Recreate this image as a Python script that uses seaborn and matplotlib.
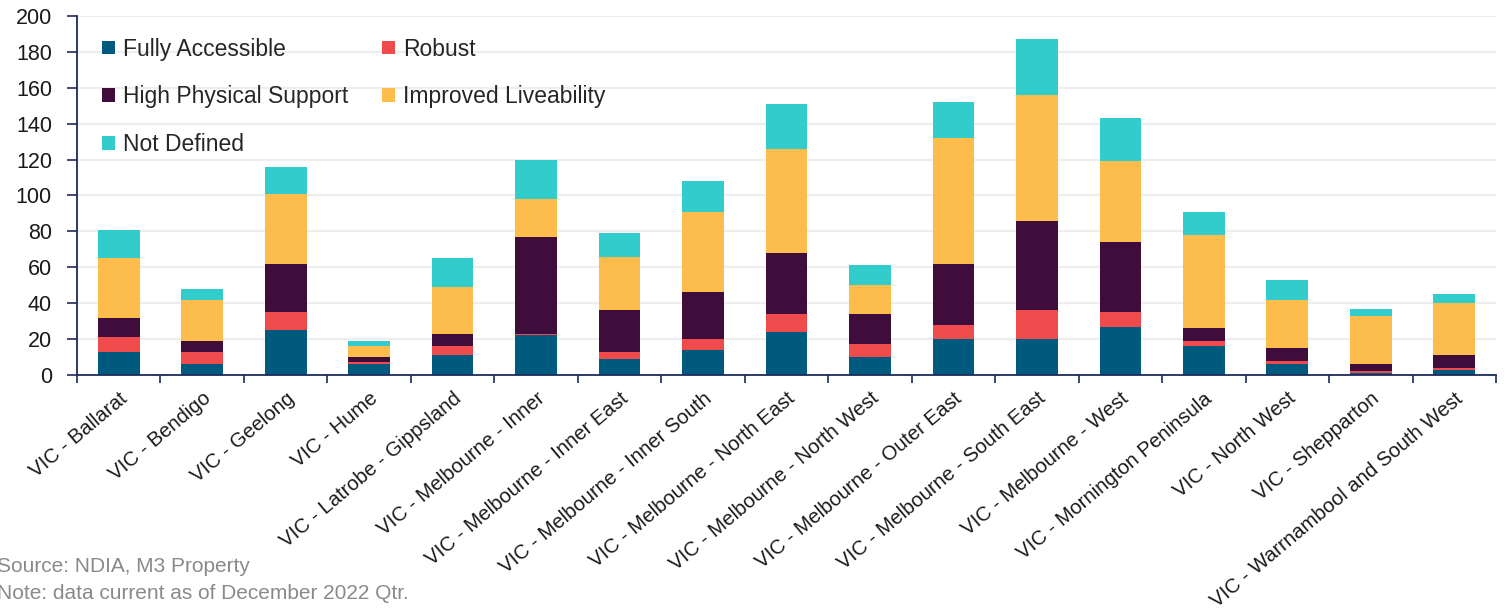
import numpy as np
import matplotlib
matplotlib.use("Agg")
import matplotlib.pyplot as plt
import seaborn as sns

regions = [
    "VIC - Ballarat", "VIC - Bendigo", "VIC - Geelong", "VIC - Hume",
    "VIC - Latrobe - Gippsland", "VIC - Melbourne - Inner",
    "VIC - Melbourne - Inner East", "VIC - Melbourne - Inner South",
    "VIC - Melbourne - North East", "VIC - Melbourne - North West",
    "VIC - Melbourne - Outer East", "VIC - Melbourne - South East",
    "VIC - Melbourne - West", "VIC - Mornington Peninsula",
    "VIC - North West", "VIC - Shepparton", "VIC - Warrnambool and South West",
]

fully_accessible = [13, 6, 25, 6, 11, 22, 9, 14, 24, 10, 20, 20, 27, 16, 6, 1, 3]
robust = [8, 7, 10, 1, 5, 1, 4, 6, 10, 7, 8, 16, 8, 3, 2, 1, 1]
high_physical_support = [11, 6, 27, 3, 7, 54, 23, 26, 34, 17, 34, 50, 39, 7, 7, 4, 7]
improved_liveability = [33, 23, 39, 6, 26, 21, 30, 45, 58, 16, 70, 70, 45, 52, 27, 27, 29]
not_defined = [16, 6, 15, 3, 16, 22, 13, 17, 25, 11, 20, 31, 24, 13, 11, 4, 5]

series = [
    ("Fully Accessible", fully_accessible, "#005A7E"),
    ("Robust", robust, "#EF4A4C"),
    ("High Physical Support", high_physical_support, "#3E0D3B"),
    ("Improved Liveability", improved_liveability, "#FDBD4C"),
    ("Not Defined", not_defined, "#33CCCC"),
]

sns.set_theme(style="white")
plt.rcParams["font.family"] = ["Liberation Sans", "DejaVu Sans"]

fig = plt.figure(figsize=(15.06, 6.12), dpi=100)
ax = fig.add_axes([0.0511, 0.3873, 0.9423, 0.5866])

bottom = np.zeros(len(regions))
for name, vals, color in series:
    vals = np.asarray(vals, dtype=float)
    sns.barplot(x=regions, y=vals, bottom=bottom, color=color, width=0.5,
                label=name, ax=ax, linewidth=0, saturation=1)
    bottom += vals

navy = "#1F2A5C"
ax.set_ylim(0, 200)
ax.set_xlim(-0.5, len(regions) - 0.5)
ax.set_yticks(np.arange(0, 201, 20))
ax.yaxis.grid(True, color="#EEEEEE", linewidth=1.6)
ax.set_axisbelow(True)

for side in ("top", "right"):
    ax.spines[side].set_visible(False)
for side in ("left", "bottom"):
    ax.spines[side].set_color(navy)
    ax.spines[side].set_linewidth(1.3)

ax.tick_params(axis="y", direction="out", length=7, width=1.2, color=navy,
               labelsize=15.5, labelcolor="#1a1a1a", pad=11, left=True)
ax.tick_params(axis="x", which="major", length=0, labelsize=14.6,
               labelcolor="#1a1a1a", pad=10)
ax.set_xticks(np.arange(-0.5, len(regions)), minor=True)
ax.tick_params(axis="x", which="minor", direction="out", length=6, width=1.2,
               color=navy, bottom=True)
plt.setp(ax.get_xticklabels(), rotation=40, ha="right", rotation_mode="anchor")
ax.set_xlabel("")
ax.set_ylabel("")

# two columns, filled row by row
handles, labels = ax.get_legend_handles_labels()
order = [0, 2, 4, 1, 3]
ax.legend([handles[i] for i in order], [labels[i] for i in order],
          loc="upper left", ncol=2, frameon=False, fontsize=16.5,
          handlelength=0.55, handleheight=0.55, handletextpad=0.35,
          labelspacing=1.08, columnspacing=1.5,
          bbox_to_anchor=(0.008, 0.978), borderaxespad=0.2)

fig.text(-0.002, 0.066, "Source: NDIA, M3 Property", fontsize=15,
         color="#8A8A8A", va="baseline")
fig.text(-0.002, 0.022, "Note: data current as of December 2022 Qtr.",
         fontsize=15, color="#8A8A8A", va="baseline")

fig.savefig("out.png", dpi=100)
